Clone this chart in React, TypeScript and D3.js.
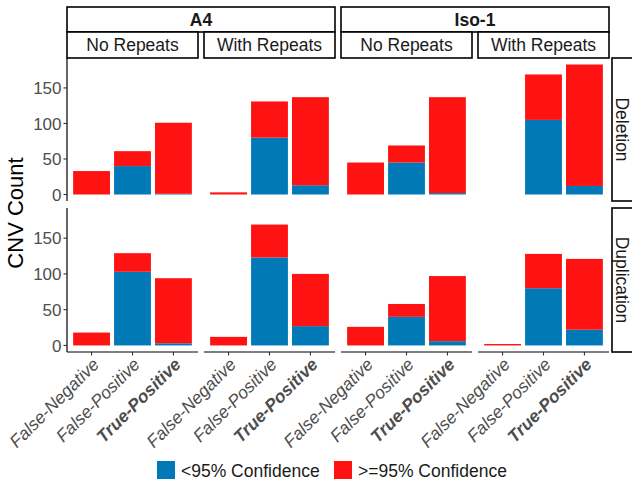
import * as d3 from 'd3';

const strains = ['A4', 'Iso-1'];
const repeatGroups = ['No Repeats', 'With Repeats'];
const cnvTypes = ['Deletion', 'Duplication'];
const outcomes = ['False-Negative', 'False-Positive', 'True-Positive'];
const yTicks = [0, 50, 100, 150];

// panel order: A4 No Repeats, A4 With Repeats, Iso-1 No Repeats, Iso-1 With Repeats
const deletionLow = [[0, 40, 1], [0, 80, 13], [0, 45, 2], [0, 105, 12]];
const deletionHigh = [[33, 21, 100], [3, 51, 124], [45, 24, 135], [0, 64, 171]];
const duplicationLow = [[0, 103, 3], [0, 123, 27], [0, 40, 6], [0, 80, 22]];
const duplicationHigh = [[18, 26, 91], [12, 46, 73], [26, 18, 91], [2, 48, 99]];

const lowByType = [deletionLow, duplicationLow];
const highByType = [deletionHigh, duplicationHigh];

const LOW = '#0279b7';
const HIGH = '#ff1212';
const FONT = '"Liberation Sans", Arial, sans-serif';

const W = 632;
const H = 481;
const left = 67;
const right = 609;
const gap = 6;
const rows = [
  { top: 58, bottom: 201 },
  { top: 208, bottom: 352 },
];

export default function App() {
  const nPanels = strains.length * repeatGroups.length;
  const panelW = (right - left - gap * (nPanels - 1)) / nPanels;
  const panelX = (i: number) => left + i * (panelW + gap);

  const maxTotal = d3.max(
    cnvTypes.flatMap((_, t) =>
      lowByType[t].flatMap((p, pi) => p.map((v, oi) => v + highByType[t][pi][oi]))
    )
  ) as number;
  const pad = maxTotal * 0.05;

  const stack = d3.stack<{ low: number; high: number }>().keys(['low', 'high']);

  return (
    <div style={{ position: 'absolute', left: 0, top: 0 }}>
      <svg width={W} height={H} style={{ display: 'block', fontFamily: FONT }}>
        <rect width={W} height={H} fill="white" />

        {/* top strips */}
        {strains.map((s, si) => {
          const x0 = panelX(si * 2);
          const x1 = panelX(si * 2 + 1) + panelW;
          return (
            <g key={s}>
              <rect x={x0} y={7} width={x1 - x0} height={25} fill="white" stroke="black" strokeWidth={1.6} />
              <text x={(x0 + x1) / 2} y={25.5} textAnchor="middle" fontSize={17.5} fontWeight="bold" fill="#1a1a1a">
                {s}
              </text>
              {repeatGroups.map((r, ri) => {
                const px = panelX(si * 2 + ri);
                return (
                  <g key={r}>
                    <rect x={px} y={32} width={panelW} height={26} fill="white" stroke="black" strokeWidth={1.6} />
                    <text x={px + panelW / 2} y={51} textAnchor="middle" fontSize={17.5} fill="#1a1a1a">
                      {r}
                    </text>
                  </g>
                );
              })}
            </g>
          );
        })}

        {cnvTypes.map((type, t) => {
          const row = rows[t];
          const y = d3.scaleLinear().domain([-pad, maxTotal + pad]).range([row.bottom, row.top]);
          return (
            <g key={type}>
              {/* right strip */}
              <rect x={612} y={row.top} width={40} height={row.bottom - row.top} fill="white" stroke="black" strokeWidth={1.6} />
              <text
                transform={`translate(${616},${(row.top + row.bottom) / 2}) rotate(90)`}
                textAnchor="middle"
                fontSize={17.5}
                fill="#1a1a1a"
              >
                {type}
              </text>

              {/* y axis */}
              <line x1={left} x2={left} y1={row.top} y2={row.bottom} stroke="black" strokeWidth={1.2} />
              {yTicks.map((v) => (
                <g key={v} transform={`translate(0,${y(v)})`}>
                  <line x1={left - 3.5} x2={left} stroke="#333" strokeWidth={1.1} />
                  <text x={left - 5.5} dy="0.36em" textAnchor="end" fontSize={17} fill="#4d4d4d">
                    {v}
                  </text>
                </g>
              ))}

              {Array.from({ length: nPanels }, (_, pi) => {
                const x = d3
                  .scaleBand<string>()
                  .domain(outcomes)
                  .range([panelX(pi), panelX(pi) + panelW])
                  .paddingInner(0.1)
                  .paddingOuter(0.15);
                const rowsData = outcomes.map((_, oi) => ({
                  low: lowByType[t][pi][oi],
                  high: highByType[t][pi][oi],
                }));
                const series = stack(rowsData);
                return (
                  <g key={pi}>
                    {series.map((s) =>
                      s.map((d, oi) => {
                        const h = y(d[0]) - y(d[1]);
                        if (h <= 0) return null;
                        return (
                          <rect
                            key={s.key + oi}
                            x={x(outcomes[oi])}
                            y={y(d[1])}
                            width={x.bandwidth()}
                            height={h}
                            fill={s.key === 'low' ? LOW : HIGH}
                          />
                        );
                      })
                    )}
                    {t === cnvTypes.length - 1 && (
                      <g>
                        <line
                          x1={panelX(pi)}
                          x2={panelX(pi) + panelW}
                          y1={row.bottom}
                          y2={row.bottom}
                          stroke="black"
                          strokeWidth={1.2}
                        />
                        {outcomes.map((o) => {
                          const cx = (x(o) as number) + x.bandwidth() / 2;
                          return (
                            <g key={o}>
                              <line x1={cx} x2={cx} y1={row.bottom} y2={row.bottom + 3.5} stroke="#333" strokeWidth={1.1} />
                              <text
                                transform={`translate(${cx + 8.5},${row.bottom + 13.5}) rotate(-45)`}
                                textAnchor="end"
                                fontSize={17.5}
                                fontStyle="italic"
                                fontWeight={o === 'True-Positive' ? 'bold' : 'normal'}
                                fill="#4d4d4d"
                              >
                                {o}
                              </text>
                            </g>
                          );
                        })}
                      </g>
                    )}
                  </g>
                );
              })}
            </g>
          );
        })}

        {/* y title */}
        <text
          transform={`translate(23,213) rotate(-90)`}
          textAnchor="middle"
          fontSize={22}
          fill="black"
        >
          CNV Count
        </text>

        {/* legend */}
        <rect x={157} y={461} width={18} height={18} fill={LOW} />
        <text x={181} y={476.5} fontSize={17.5} fill="#1a1a1a">
          {'<95% Confidence'}
        </text>
        <rect x={334} y={461} width={18} height={18} fill={HIGH} />
        <text x={358} y={476.5} fontSize={17.5} fill="#1a1a1a">
          {'>=95% Confidence'}
        </text>
      </svg>
    </div>
  );
}
